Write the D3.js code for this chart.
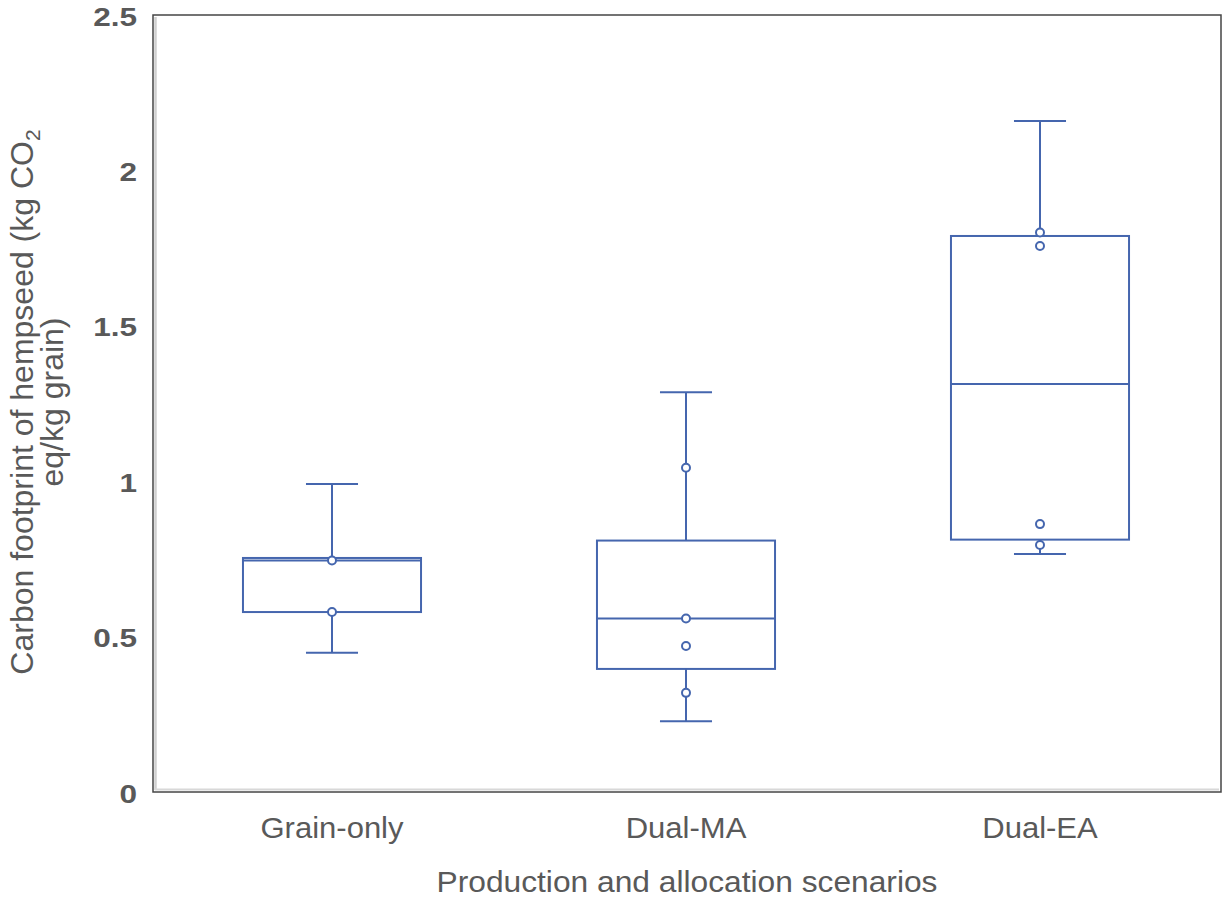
<!DOCTYPE html>
<html>
<head>
<meta charset="utf-8">
<script src="https://cdn.jsdelivr.net/npm/d3@7"></script>
<style>
  html, body { margin: 0; padding: 0; background: #fff; }
  svg { display: block; font-family: "Liberation Sans", Arial, sans-serif; }
</style>
</head>
<body>
<svg id="chart" width="1225" height="899"></svg>
<script>
// Scenarios on the x axis
const categories = ["Grain-only", "Dual-MA", "Dual-EA"];
// Box statistics per scenario: lower whisker, Q1, median, Q3, upper whisker
const whiskerLow = [0.448, 0.228, 0.766];
const q1 = [0.579, 0.396, 0.812];
const median = [0.745, 0.558, 1.313];
const q3 = [0.753, 0.809, 1.789];
const whiskerHigh = [0.991, 1.286, 2.159];
// Individual observations drawn as open circles
const pointsGrain = [0.745, 0.579];
const pointsMA = [1.043, 0.558, 0.470, 0.319];
const pointsEA = [1.800, 1.757, 0.862, 0.795];
const points = [pointsGrain, pointsMA, pointsEA];
const yTicks = [0, 0.5, 1, 1.5, 2, 2.5];

const boxes = categories.map((c, i) => ({
  cat: c, lo: whiskerLow[i], q1: q1[i], med: median[i], q3: q3[i], hi: whiskerHigh[i], pts: points[i]
}));

const svg = d3.select("#chart");
const frame = { left: 153, right: 1221, top: 15, bottom: 792 };
const blue = "#4566ae";
const textGray = "#595959";
const font = "'Liberation Sans', Arial, sans-serif";

const x = d3.scaleBand().domain(categories).range([155, 1217]).padding(0);
const y = d3.scaleLinear().domain([0, 2.5]).range([frame.bottom, frame.top]);

// Plot frame with a soft inner shade on left and bottom
svg.append("line").attr("x1", frame.left + 2.5).attr("x2", frame.left + 2.5)
  .attr("y1", frame.top + 2).attr("y2", frame.bottom - 2)
  .attr("stroke", "#d0d0d0").attr("stroke-width", 2.5);
svg.append("line").attr("x1", frame.left + 2).attr("x2", frame.right - 2)
  .attr("y1", frame.bottom - 2.5).attr("y2", frame.bottom - 2.5)
  .attr("stroke", "#d8d8d8").attr("stroke-width", 2);
svg.append("rect").attr("x", frame.left).attr("y", frame.top)
  .attr("width", frame.right - frame.left).attr("height", frame.bottom - frame.top)
  .attr("fill", "none").attr("stroke", "#454545").attr("stroke-width", 1.5);

// Y axis tick labels (bold, slightly widened)
const yAxis = d3.axisLeft(y).tickValues(yTicks).tickSize(0).tickFormat(d3.format("~g"));
const gy = svg.append("g").attr("transform", `translate(${frame.left},0)`).call(yAxis);
gy.select(".domain").remove();
gy.selectAll("text")
  .attr("font-family", font).attr("font-size", 26.5).attr("font-weight", "bold").attr("fill", textGray)
  .attr("x", -13.4).attr("dy", "0.38em").attr("transform", "scale(1.19,1)");

// X axis category labels
const xAxis = d3.axisBottom(x).tickSize(0);
const gx = svg.append("g").attr("transform", `translate(0,${frame.bottom})`).call(xAxis);
gx.select(".domain").remove();
gx.selectAll("text")
  .attr("font-family", font).attr("font-size", 29).attr("fill", textGray)
  .attr("y", 46).attr("dy", 0).attr("transform", "scale(1.07,1)");

// Axis titles
svg.append("text").attr("x", 687).attr("y", 892).attr("text-anchor", "middle")
  .attr("font-family", font).attr("font-size", 30).attr("fill", textGray)
  .attr("textLength", 501).attr("lengthAdjust", "spacingAndGlyphs")
  .text("Production and allocation scenarios");

const yt = svg.append("text").attr("transform", "translate(0,402) rotate(-90)")
  .attr("text-anchor", "middle").attr("font-family", font).attr("font-size", 32).attr("fill", textGray);
const l1 = yt.append("tspan").attr("x", 0).attr("y", 33);
l1.append("tspan").text("Carbon footprint of hempseed (kg CO");
l1.append("tspan").attr("font-size", 21).attr("dy", 7).text("2");
yt.append("tspan").attr("x", 0).attr("y", 63).text("eq/kg grain)");

// Box plots
const bw = x.bandwidth() * 0.503;
const cw = x.bandwidth() * 0.147;
const g = svg.selectAll(".box").data(boxes).join("g").attr("class", "box")
  .attr("transform", d => `translate(${x(d.cat) + x.bandwidth() / 2},0)`);

g.append("line").attr("x1", 0).attr("x2", 0).attr("y1", d => y(d.hi)).attr("y2", d => y(d.q3))
  .attr("stroke", blue).attr("stroke-width", 2);
g.append("line").attr("x1", 0).attr("x2", 0).attr("y1", d => y(d.q1)).attr("y2", d => y(d.lo))
  .attr("stroke", blue).attr("stroke-width", 2);
g.append("line").attr("x1", -cw / 2).attr("x2", cw / 2).attr("y1", d => y(d.hi)).attr("y2", d => y(d.hi))
  .attr("stroke", blue).attr("stroke-width", 2);
g.append("line").attr("x1", -cw / 2).attr("x2", cw / 2).attr("y1", d => y(d.lo)).attr("y2", d => y(d.lo))
  .attr("stroke", blue).attr("stroke-width", 2);
g.append("rect").attr("x", -bw / 2).attr("width", bw).attr("y", d => y(d.q3)).attr("height", d => y(d.q1) - y(d.q3))
  .attr("fill", "none").attr("stroke", blue).attr("stroke-width", 2);
g.append("line").attr("x1", -bw / 2).attr("x2", bw / 2).attr("y1", d => y(d.med)).attr("y2", d => y(d.med))
  .attr("stroke", blue).attr("stroke-width", 2);

g.selectAll("circle").data(d => d.pts).join("circle")
  .attr("cx", 0).attr("cy", d => y(d)).attr("r", 4)
  .attr("fill", "#fff").attr("stroke", blue).attr("stroke-width", 2);
</script>
</body>
</html>
